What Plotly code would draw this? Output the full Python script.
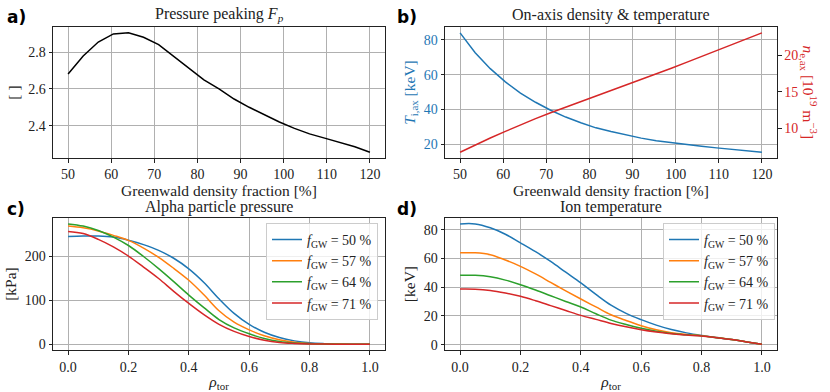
import plotly.graph_objects as go

# a) / b): scan over Greenwald density fraction
f_gw = [50, 53.5, 57, 60.5, 64, 67.5, 71, 74.5, 78, 81.5, 85, 88.5, 92, 95.5, 99,
        102.5, 106, 109.5, 113, 116.5, 120]
f_p = [2.682, 2.78, 2.856, 2.900, 2.906, 2.882, 2.842, 2.777, 2.712, 2.650, 2.600,
       2.545, 2.500, 2.460, 2.420, 2.385, 2.355, 2.332, 2.310, 2.285, 2.255]
t_i_ax = [84.0, 72.6, 63.4, 55.8, 49.4, 44.1, 39.5, 35.6, 32.3, 29.4, 27.3, 25.3,
          23.5, 22.0, 20.8, 19.8, 18.8, 17.9, 17.0, 16.2, 15.4]
n_e_ax = [6.75, 7.75, 8.7, 9.6, 10.5, 11.35, 12.15, 12.9, 13.65, 14.4, 15.15, 15.9,
          16.65, 17.45, 18.25, 19.05, 19.85, 20.65, 21.5, 22.3, 23.1]

# c) / d): radial profiles
rho = [0.0, 0.05, 0.1, 0.15, 0.2, 0.25, 0.3, 0.35, 0.4, 0.45, 0.5, 0.55, 0.6, 0.65,
       0.7, 0.75, 0.8, 0.85, 0.9, 0.95, 1.0]
cases = ["50", "57", "64", "71"]
p_alpha = {
    "50": [244.5, 245.5, 245.5, 243, 236, 226, 213, 195, 171, 140, 103, 70, 45, 27,
           15, 7.5, 3, 1.2, 0.4, 0.1, 0],
    "57": [268, 264, 257, 247, 235.5, 218, 197, 172, 145, 112, 76, 50, 32.5, 19,
           10, 4.5, 1.5, 0.6, 0.2, 0.05, 0],
    "64": [273, 268, 258, 243, 224, 199, 171.5, 142, 111.5, 83, 56, 37, 23.5, 13,
           6, 2.5, 1, 0.4, 0.1, 0, 0],
    "71": [256, 251, 238, 221, 200, 175, 149, 120, 92.5, 67, 45, 29, 17.4, 9,
           4, 1.8, 0.6, 0.2, 0.05, 0, 0],
}
t_i = {
    "50": [84.2, 84.2, 81.5, 77, 71, 64.8, 58, 50.5, 43, 35, 27.5, 21.8, 17.4, 13.6,
           10.5, 8.2, 6.4, 4.9, 3.5, 1.9, 0.3],
    "57": [64.1, 64, 62.7, 59, 54.6, 49.3, 43.4, 37.5, 31.8, 26.3, 20.8, 16.8, 13.2,
           10.3, 8.3, 7.1, 6.2, 4.9, 3.5, 1.9, 0.3],
    "64": [48.4, 48.3, 47.3, 45, 41.8, 38.1, 34.1, 30.1, 26.2, 21.5, 17.1, 14.0, 11.4,
           9.3, 7.7, 6.8, 6.1, 4.8, 3.5, 1.9, 0.3],
    "71": [38.8, 38.7, 37.8, 36, 33.7, 30.6, 27.2, 23.8, 20.4, 17.6, 14.8, 12.4, 10.4,
           8.8, 7.5, 6.7, 6.0, 4.8, 3.5, 1.9, 0.3],
}
colors = ["#1f77b4", "#ff7f0e", "#2ca02c", "#d62728"]

W, H = 830, 392
FONT = "Liberation Serif, Times New Roman, serif"
INK = "#222222"


def px_x(a, b):
    return [a / W, b / W]


def px_y(top, bottom):
    return [1 - bottom / H, 1 - top / H]


def auto_range(vals):
    lo, hi = min(vals), max(vals)
    pad = 0.05 * (hi - lo)
    return [lo - pad, hi + pad]


def fnt(size, color=INK):
    return dict(family=FONT, size=size, color=color)


def axis_style(**kw):
    d = dict(showline=True, linecolor=INK, linewidth=1, mirror=True,
             ticks="outside", ticklen=3.5, tickcolor=INK, showgrid=True,
             gridcolor="#b0b0b0", gridwidth=0.8, zeroline=False, tickfont=fnt(14))
    d.update(kw)
    return d


fig = go.Figure()

# a)
fig.add_trace(go.Scatter(x=f_gw, y=f_p, mode="lines", line=dict(color="black", width=1.5),
                         xaxis="x", yaxis="y", showlegend=False))
# b)
fig.add_trace(go.Scatter(x=f_gw, y=t_i_ax, mode="lines", line=dict(color=colors[0], width=1.5),
                         xaxis="x2", yaxis="y2", showlegend=False))
fig.add_trace(go.Scatter(x=f_gw, y=n_e_ax, mode="lines", line=dict(color=colors[3], width=1.5),
                         xaxis="x2", yaxis="y3", showlegend=False))
# c) and d)
all_p, all_t = [], []
for c, col in zip(cases, colors):
    name = "<i>f</i><sub>GW</sub> = " + c + " %"
    fig.add_trace(go.Scatter(x=rho, y=p_alpha[c], mode="lines", name=name,
                             line=dict(color=col, width=1.5, shape="spline"),
                             xaxis="x3", yaxis="y4", legend="legend"))
    fig.add_trace(go.Scatter(x=rho, y=t_i[c], mode="lines", name=name,
                             line=dict(color=col, width=1.5, shape="spline"),
                             xaxis="x4", yaxis="y5", legend="legend2"))
    all_p += p_alpha[c]
    all_t += t_i[c]

gw_title = dict(text="Greenwald density fraction [%]", font=fnt(15.5), standoff=3)
rho_title = dict(text="<i>ρ</i><sub>tor</sub>", font=fnt(15.5), standoff=3)

legend_style = dict(font=fnt(14), bgcolor="rgba(255,255,255,0.8)",
                    bordercolor="#cccccc", borderwidth=1, xanchor="right", yanchor="top",
                    tracegroupgap=0, itemwidth=30)

fig.update_layout(
    width=W, height=H, margin=dict(l=0, r=0, t=0, b=0),
    plot_bgcolor="white", paper_bgcolor="white",
    font=fnt(14),
    xaxis=axis_style(domain=px_x(53, 385), anchor="y", range=auto_range(f_gw), dtick=10,
                     title=gw_title),
    yaxis=axis_style(domain=px_y(27, 159), anchor="x", range=auto_range(f_p), dtick=0.2,
                     tickformat=".1f", title=dict(text="[ ]", font=fnt(15.5), standoff=4)),
    xaxis2=axis_style(domain=px_x(445, 777), anchor="y2", range=auto_range(f_gw), dtick=10,
                      title=gw_title),
    yaxis2=axis_style(domain=px_y(27, 159), anchor="x2", range=auto_range(t_i_ax), dtick=20,
                      tickfont=fnt(14, colors[0]),
                      title=dict(text="<i>T</i><sub>i,ax</sub> [keV]",
                                 font=fnt(15.5, colors[0]), standoff=4)),
    yaxis3=axis_style(overlaying="y2", side="right", anchor="x2", range=auto_range(n_e_ax),
                      dtick=5, showgrid=False, mirror=False, tickfont=fnt(14, colors[3])),
    xaxis3=axis_style(domain=px_x(53, 385), anchor="y4", range=[-0.05, 1.05], dtick=0.2,
                      tickformat=".1f", title=rho_title),
    yaxis4=axis_style(domain=px_y(219, 352), anchor="x3", range=auto_range(all_p), dtick=100,
                      title=dict(text="[kPa]", font=fnt(15.5), standoff=4)),
    xaxis4=axis_style(domain=px_x(445, 777), anchor="y5", range=[-0.05, 1.05], dtick=0.2,
                      tickformat=".1f", title=rho_title),
    yaxis5=axis_style(domain=px_y(219, 352), anchor="x4", range=auto_range(all_t), dtick=20,
                      title=dict(text="[keV]", font=fnt(15.5), standoff=4)),
    legend=dict(x=378 / W, y=1 - 224 / H, **legend_style),
    legend2=dict(x=775 / W, y=1 - 224 / H, **legend_style),
)

titles = [
    ("Pressure peaking <i>F</i><sub><i>p</i></sub>", 219, 15),
    ("On-axis density &amp; temperature", 611, 15),
    ("Alpha particle pressure", 219, 208),
    ("Ion temperature", 611, 208),
]
for text, x, y in titles:
    fig.add_annotation(text=text, x=x / W, y=1 - y / H, xref="paper", yref="paper",
                       xanchor="center", yanchor="middle", showarrow=False, font=fnt(16))

for text, x, y in [("a)", 16, 17), ("b)", 407, 17), ("c)", 16, 210), ("d)", 407, 210)]:
    fig.add_annotation(text="<b>" + text + "</b>", x=x / W, y=1 - y / H, xref="paper", yref="paper",
                       xanchor="center", yanchor="middle", showarrow=False,
                       font=dict(family="DejaVu Sans", size=17, color="black"))

fig.add_annotation(text="<i>n</i><sub>e,ax</sub> [10<sup>19</sup> m<sup>−3</sup>]",
                   x=809 / W, y=1 - 93 / H, xref="paper", yref="paper", showarrow=False,
                   xanchor="center", yanchor="middle", textangle=90, font=fnt(15.5, colors[3]))

# page body has a default 8px margin; drop it so the figure fills the window
fig.write_html("out.html", config={"displayModeBar": False},
               post_script="document.body.style.margin='0';")
